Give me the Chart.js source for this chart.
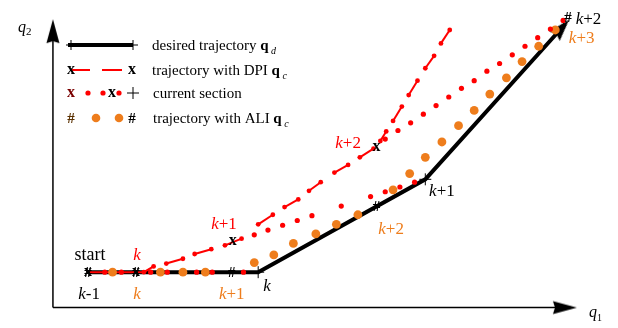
<!DOCTYPE html>
<html><head><meta charset="utf-8">
<script src="https://cdn.jsdelivr.net/npm/chart.js@4"></script>
<style>html,body{margin:0;padding:0;background:#fff;}#wrap{width:618px;height:328px;}</style>
</head><body><div id="wrap"><canvas id="c" width="618" height="328"></canvas></div>
<script>
// ---- data (plot units: x to the right, y upwards, origin at the axes' corner) ----
const axisXLineX = [0, 530];
const axisXLineY = [0, 0];
const axisYLineX = [0, 0];
const axisYLineY = [0, 295];

const desiredX = [36, 210, 381, 524];
const desiredY = [37, 37, 134, 296];

const dpiX = [36, 93, 103, 116, 133, 145, 162, 176, 193, 210, 225, 237, 251, 262, 274, 288, 302, 314, 328, 335, 341, 348, 357, 364, 373, 381, 390, 397, 406];
const dpiY = [37, 37, 43, 46, 51, 56, 61, 65, 72, 87, 97, 105, 113, 122, 131, 141, 149, 157, 166, 174, 184, 195, 210, 222, 237, 250, 263, 276, 290];

const sectionBaseX = [53, 70, 100, 117, 147, 163, 195];
const sectionBaseY = [37, 37, 37, 37, 37, 37, 37];
const sectionLowX = [206, 220, 235, 250, 265, 295, 325, 340, 355, 370];
const sectionLowY = [76, 81, 86, 91, 96, 106, 116, 121, 126, 131];
const sectionUpX = [340, 353, 366, 379, 392, 405, 418, 431, 444, 457, 470, 483, 496, 509, 522];
const sectionUpY = [176, 185, 193, 202, 211, 220, 229, 237, 247, 255, 264, 273, 282, 291, 300];

const aliX = [61, 110, 133, 156, 206, 226, 246, 269, 290, 312, 348, 365, 381, 398, 415, 431, 447, 464, 480, 497, 514];
const aliY = [37, 37, 37, 37, 47, 55, 67, 77, 87, 97, 123, 140, 157, 173, 190, 206, 223, 240, 257, 273, 290];

const dpiMarkX = [36, 85, 184, 331];
const dpiMarkY = [37, 37, 69, 167];
const aliMarkX = [36, 85, 183, 331, 527];
const aliMarkY = [37, 37, 37, 106, 304];
const plusX = [210, 381];
const plusY = [37, 134];

const labelTexts  = ['start', 'k', 'k+1', 'k+2', 'k-1', 'k', 'k+1', 'k', 'k+1', 'k+2', 'k+2', 'k+3'];
const labelX      = [38, 86, 175, 302, 37, 86, 183, 219, 398, 346, 548, 541];
const labelY      = [50, 50, 82, 167, 9, 9, 9, 17, 117, 77, 296, 276];
const labelGroups = ['black', 'red', 'red', 'red', 'black', 'orange', 'orange', 'black', 'black', 'orange', 'black', 'orange'];

const legendTexts = ['desired trajectory ', 'trajectory with DPI ', 'current section', 'trajectory with ALI '];
const legendSubs  = ['d', 'c', '', 'c'];

// ---- styling ----
const RED = '#FF0000';
const ORANGE = '#EE7D1C';
const BLACK = '#000000';
const SERIF = '"Liberation Serif", "Times New Roman", serif';
const groupColor = { black: BLACK, red: RED, orange: ORANGE };

const pts = (xs, ys) => xs.map((x, i) => ({ x: x, y: ys[i] }));

function makeArrow(len, width, off, notch) {
  const half = Math.ceil(len - off) + 2;
  const c = document.createElement('canvas');
  c.width = c.height = half * 2;
  const g = c.getContext('2d');
  g.fillStyle = BLACK;
  g.beginPath();
  g.moveTo(half + off, half);
  g.lineTo(half + off - len, half - width / 2);
  g.lineTo(half + off - len + notch, half);
  g.lineTo(half + off - len, half + width / 2);
  g.closePath();
  g.fill();
  return c;
}
const axisArrow = makeArrow(24, 13, 6, 2);
const trajArrow = makeArrow(22, 14, 6, 3);

function lastAngle(xs, ys) {
  const n = xs.length;
  return -Math.atan2(ys[n - 1] - ys[n - 2], xs[n - 1] - xs[n - 2]) * 180 / Math.PI;
}

function arrowLine(xs, ys, width, arrow) {
  const n = xs.length;
  return {
    data: pts(xs, ys), showLine: true, borderColor: BLACK, borderWidth: width,
    pointRadius: c => (c.dataIndex === n - 1 ? 5 : 0),
    pointStyle: c => (c.dataIndex === n - 1 ? arrow : 'circle'),
    rotation: lastAngle(xs, ys),
    pointBackgroundColor: BLACK, pointBorderWidth: 0
  };
}

function drawRich(ctx, parts, x, y, align) {
  let w = 0;
  parts.forEach(p => { ctx.font = p.f; w += ctx.measureText(p.t).width; });
  let cx = align === 'center' ? x - w / 2 : x;
  parts.forEach(p => {
    ctx.font = p.f; ctx.fillStyle = p.c;
    ctx.fillText(p.t, cx, y + (p.dy || 0));
    cx += ctx.measureText(p.t).width;
  });
}

function labelParts(t, color) {
  if (t[0] === 'k') {
    const parts = [{ t: 'k', f: 'italic 17px ' + SERIF, c: color }];
    if (t.length > 1) parts.push({ t: t.slice(1), f: '17px ' + SERIF, c: color });
    return parts;
  }
  return [{ t: t, f: '18px ' + SERIF, c: color }];
}

function glyph(ctx, ch, px, py, color) {
  ctx.fillStyle = color;
  ctx.textAlign = 'center';
  if (ch === 'x') { ctx.font = 'bold 16px ' + SERIF; ctx.fillText('x', px, py + 3.7); }
  else { ctx.font = 'bold 15px ' + SERIF; ctx.fillText('#', px, py + 5); }
  ctx.textAlign = 'left';
}

const overlay = {
  id: 'overlay',
  afterDatasetsDraw(chart) {
    const ctx = chart.ctx, xs = chart.scales.x, ys = chart.scales.y;
    ctx.save();
    ctx.textBaseline = 'alphabetic';
    // markers
    aliMarkX.forEach((x, i) => glyph(ctx, '#', xs.getPixelForValue(x), ys.getPixelForValue(aliMarkY[i]), BLACK));
    dpiMarkX.forEach((x, i) => glyph(ctx, 'x', xs.getPixelForValue(x), ys.getPixelForValue(dpiMarkY[i]), BLACK));
    // labels
    labelTexts.forEach((t, i) => {
      drawRich(ctx, labelParts(t, groupColor[labelGroups[i]]),
        xs.getPixelForValue(labelX[i]), ys.getPixelForValue(labelY[i]), 'center');
    });
    // axis names
    drawRich(ctx, [{ t: 'q', f: 'italic 16px ' + SERIF, c: BLACK }, { t: '2', f: '11px ' + SERIF, c: BLACK, dy: 3 }], 18, 32, 'left');
    drawRich(ctx, [{ t: 'q', f: 'italic 16px ' + SERIF, c: BLACK }, { t: '1', f: '10px ' + SERIF, c: BLACK, dy: 4 }], 589, 317, 'left');

    // legend
    const rows = [45, 70, 93, 118];
    // row 1
    ctx.strokeStyle = BLACK; ctx.lineWidth = 4;
    ctx.beginPath(); ctx.moveTo(68, rows[0]); ctx.lineTo(133, rows[0]); ctx.stroke();
    ctx.lineWidth = 1;
    [71, 133].forEach(x => {
      ctx.beginPath(); ctx.moveTo(x, rows[0] - 5); ctx.lineTo(x, rows[0] + 5);
      ctx.moveTo(x - 5, rows[0]); ctx.lineTo(x + 5, rows[0]); ctx.stroke();
    });
    // row 2
    ctx.strokeStyle = RED; ctx.lineWidth = 2;
    ctx.beginPath(); ctx.moveTo(72, rows[1]); ctx.lineTo(90, rows[1]);
    ctx.moveTo(102, rows[1]); ctx.lineTo(122, rows[1]); ctx.stroke();
    glyph(ctx, 'x', 71, rows[1], BLACK); glyph(ctx, 'x', 132, rows[1], BLACK);
    // row 3
    ctx.fillStyle = RED;
    [88, 103, 119].forEach(x => { ctx.beginPath(); ctx.arc(x, rows[2], 2.6, 0, Math.PI * 2); ctx.fill(); });
    glyph(ctx, 'x', 71, rows[2], '#7a0000'); glyph(ctx, 'x', 112, rows[2], BLACK);
    ctx.strokeStyle = BLACK; ctx.lineWidth = 1;
    ctx.beginPath(); ctx.moveTo(133, rows[2] - 6); ctx.lineTo(133, rows[2] + 6);
    ctx.moveTo(127, rows[2]); ctx.lineTo(139, rows[2]); ctx.stroke();
    // row 4
    ctx.fillStyle = ORANGE;
    [96, 119].forEach(x => { ctx.beginPath(); ctx.arc(x, rows[3], 4.3, 0, Math.PI * 2); ctx.fill(); });
    glyph(ctx, '#', 71, rows[3], '#5a3000'); glyph(ctx, '#', 132, rows[3], BLACK);
    // texts
    legendTexts.forEach((t, i) => {
      const parts = [{ t: t, f: '15px ' + SERIF, c: BLACK }];
      if (legendSubs[i]) {
        parts.push({ t: 'q', f: 'bold 15px ' + SERIF, c: BLACK });
        parts.push({ t: ' ' + legendSubs[i], f: 'italic 10px ' + SERIF, c: BLACK, dy: 4 });
      }
      drawRich(ctx, parts, i < 2 ? 152 : 153, rows[i] + 5, 'left');
    });
    ctx.restore();
  }
};

new Chart(document.getElementById('c'), {
  type: 'scatter',
  data: {
    datasets: [
      Object.assign(arrowLine(axisXLineX, axisXLineY, 1.5, axisArrow), { order: 10 }),
      Object.assign(arrowLine(axisYLineX, axisYLineY, 1.5, axisArrow), { order: 10 }),
      Object.assign(arrowLine(desiredX, desiredY, 4, trajArrow), { order: 8 }),
      {
        data: pts(plusX, plusY), pointStyle: 'cross', pointRadius: 6, pointBorderWidth: 1,
        pointBorderColor: BLACK, order: 7
      },
      {
        data: pts(dpiX, dpiY), showLine: true, borderWidth: 2, borderColor: RED,
        segment: { borderColor: c => (c.p0DataIndex < 2 || c.p0DataIndex % 2 === 1) ? RED : 'rgba(0,0,0,0)' },
        pointRadius: c => (c.dataIndex === 0 ? 0 : 2.4), pointBackgroundColor: RED, pointBorderWidth: 0,
        order: 6
      },
      {
        data: pts(aliX, aliY), pointRadius: 4.4, pointBackgroundColor: ORANGE, pointBorderWidth: 0, order: 5
      },
      {
        data: pts(sectionBaseX, sectionBaseY).concat(pts(sectionLowX, sectionLowY), pts(sectionUpX, sectionUpY)),
        pointRadius: 2.6, pointBackgroundColor: RED, pointBorderWidth: 0, order: 4
      }
    ]
  },
  options: {
    responsive: false, animation: false, devicePixelRatio: 1, events: [],
    layout: { padding: 0 },
    plugins: { legend: { display: false }, tooltip: { enabled: false } },
    scales: {
      x: { type: 'linear', min: -47, max: 571, display: false },
      y: { type: 'linear', min: -14, max: 314, display: false }
    }
  },
  plugins: [overlay]
});
</script>
</body></html>
